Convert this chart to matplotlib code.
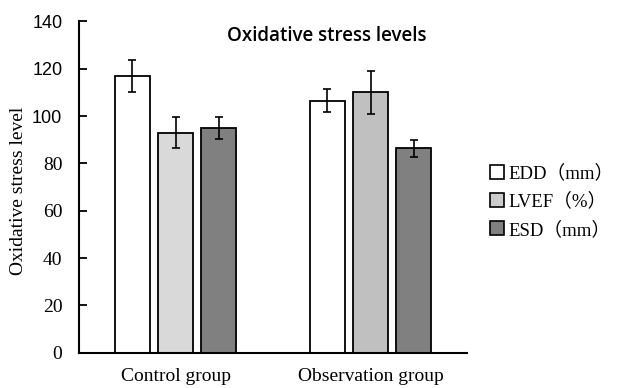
import numpy as np
import matplotlib.pyplot as plt
from matplotlib.patches import Patch
from matplotlib.font_manager import FontProperties

# data
groups = ['Control group', 'Observation group']
series = ['EDD（mm）', 'LVEF（%）', 'ESD（mm）']
edd = [117.0, 106.5]
edd_err = [6.6, 4.8]
lvef = [93.0, 110.0]
lvef_err = [6.6, 9.2]
esd = [95.0, 86.5]
esd_err = [4.6, 3.6]
yticks = [0, 20, 40, 60, 80, 100, 120, 140]

serif = ['Liberation Serif', 'Noto Sans CJK SC']
plt.rcParams['font.family'] = serif

fig = plt.figure(figsize=(6.19, 3.88), dpi=100, facecolor='white')
ax = fig.add_axes([0.1276, 0.091, 0.6269, 0.8536])

x = np.arange(len(groups))
w = 0.18
off = 0.222
ekw = dict(elinewidth=1.2, capthick=1.2, ecolor='black')
ax.bar(x - off, edd, w, yerr=edd_err, color='white', edgecolor='black',
       linewidth=1.3, capsize=3, error_kw=ekw)
ax.bar(x, lvef, w, yerr=lvef_err, color=['#d9d9d9', '#c0c0c0'], edgecolor='black',
       linewidth=1.3, capsize=3, error_kw=ekw)
ax.bar(x + off, esd, w, yerr=esd_err, color='#808080', edgecolor='black',
       linewidth=1.3, capsize=3, error_kw=ekw)

ax.set_xlim(-0.495, 1.495)
ax.set_ylim(0, 140)
ax.set_yticks(yticks)
ax.set_xticks(x)
ax.set_xticklabels(groups, fontsize=14)
ax.tick_params(axis='x', length=0, pad=11)
ax.tick_params(axis='y', direction='in', length=6, width=1.3, pad=12, labelsize=14)
for lab in ax.get_yticklabels()[-3:]:
    lab.set_family('Liberation Sans')
    lab.set_fontsize(13)

for s in ['top', 'right']:
    ax.spines[s].set_visible(False)
for s in ['left', 'bottom']:
    ax.spines[s].set_linewidth(1.5)

ax.set_ylabel('Oxidative stress level', fontsize=14)
ax.yaxis.set_label_coords(-0.134, 0.49)

fig.text(0.5275, 0.908, 'Oxidative stress levels', family='Open Sans',
         fontsize=13.5, weight='semibold', ha='center', va='center')

handles = [Patch(facecolor='white', edgecolor='black', linewidth=1.2),
           Patch(facecolor='#cccccc', edgecolor='black', linewidth=1.2),
           Patch(facecolor='#808080', edgecolor='black', linewidth=1.2)]
fig.legend(handles, series, loc='center left', bbox_to_anchor=(0.792, 0.48),
           frameon=False, prop=FontProperties(family=serif, size=13.5),
           handlelength=0.75, handleheight=0.75, handletextpad=0.2,
           labelspacing=0.55, borderpad=0, borderaxespad=0)

fig.savefig('out.png', dpi=100, facecolor='white')
